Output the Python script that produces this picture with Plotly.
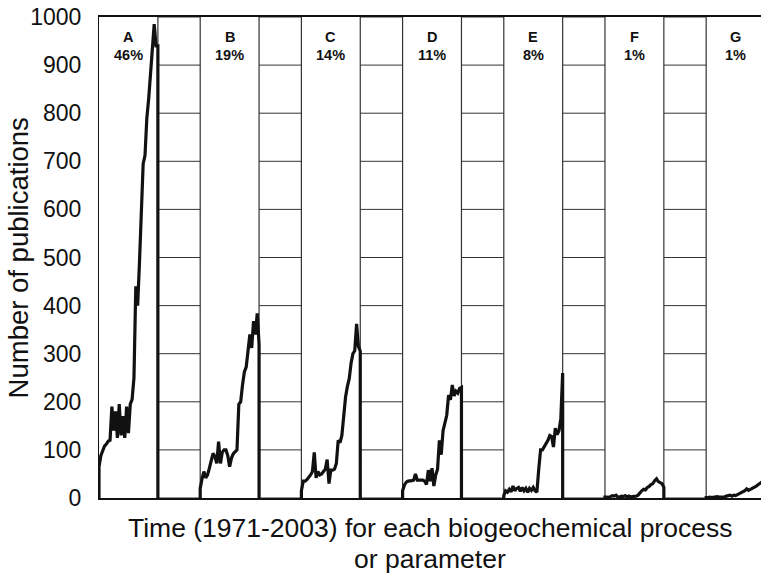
import plotly.graph_objects as go

# ---------------- data ----------------
years = list(range(1971, 2004))
panel_labels = ["A", "B", "C", "D", "E", "F", "G"]
panel_shares = ["46%", "19%", "14%", "11%", "8%", "1%", "1%"]

series_A = [65, 88, 100, 108, 112, 118, 120, 190, 140, 180, 125, 195, 130, 170, 125, 190,
            135, 195, 205, 250, 440, 400, 490, 600, 695, 712, 790, 830, 880, 920, 985, 940, 940]
series_B = [20, 40, 55, 42, 48, 62, 78, 93, 86, 72, 117, 72, 95, 100, 100, 88,
            65, 83, 92, 96, 100, 195, 200, 235, 262, 272, 305, 340, 312, 368, 340, 384, 320]
series_C = [15, 35, 35, 38, 42, 48, 55, 95, 42, 55, 48, 50, 55, 60, 80, 30,
            58, 58, 60, 72, 120, 115, 130, 170, 210, 232, 248, 280, 300, 306, 362, 315, 305]
series_D = [15, 27, 33, 35, 35, 36, 37, 50, 37, 37, 37, 37, 35, 28, 58, 35,
            62, 25, 48, 60, 120, 90, 140, 160, 172, 214, 204, 235, 212, 222, 218, 228, 230]
series_E = [5, 15, 12, 18, 13, 25, 15, 20, 22, 14, 22, 15, 20, 12, 20, 16,
            22, 15, 12, 60, 100, 100, 106, 112, 120, 130, 128, 106, 145, 132, 140, 165, 260]
series_F = [2, 2, 1, 3, 5, 4, 6, 2, 2, 4, 3, 5, 2, 4, 2, 3,
            3, 4, 6, 12, 15, 18, 17, 22, 24, 28, 30, 36, 40, 34, 31, 30, 22]
series_G = [1, 1, 2, 1, 2, 2, 3, 2, 2, 3, 2, 4, 5, 6, 4, 6,
            5, 7, 8, 10, 12, 15, 19, 16, 18, 20, 21, 24, 27, 30, 33, 35, 38]
all_series = [series_A, series_B, series_C, series_D, series_E, series_F, series_G]

y_ticks = [0, 100, 200, 300, 400, 500, 600, 700, 800, 900, 1000]

# ---------------- layout constants ----------------
SPAN = years[-1] - years[0]      # width of one panel, in years
PERIOD = 55                      # panel + gap, in years
X_MAX = 359.8
FONT = "Liberation Sans, Arial, Helvetica, sans-serif"
INK = "#111111"

fig = go.Figure()

for k, vals in enumerate(all_series):
    xs = [k * PERIOD + (yr - years[0]) for yr in years]
    # series rise from and fall back to the baseline at the panel edges
    xs_full = [xs[0]] + xs + [xs[-1]]
    ys_full = [0] + vals + [0]
    fig.add_trace(go.Scatter(
        x=xs_full, y=ys_full, mode="lines",
        line=dict(color=INK, width=3.2),
        showlegend=False, hoverinfo="skip"))

shapes = []
for k in range(len(all_series) - 1):
    g0 = k * PERIOD + SPAN
    g1 = (k + 1) * PERIOD
    shapes.append(dict(type="rect", xref="x", yref="y", x0=g0, x1=g1, y0=0, y1=1000,
                       line=dict(color="#333333", width=1.2), fillcolor="white", layer="below"))
    for t in y_ticks[1:-1]:
        shapes.append(dict(type="line", xref="x", yref="y", x0=g0, x1=g1, y0=t, y1=t,
                           line=dict(color="#333333", width=1), layer="below"))

annotations = []
for k, (lab, pct) in enumerate(zip(panel_labels, panel_shares)):
    cx = k * PERIOD + SPAN / 2
    annotations.append(dict(x=cx, y=958, xref="x", yref="y", text="<b>%s</b>" % lab,
                            showarrow=False, font=dict(family=FONT, size=14.5, color=INK)))
    annotations.append(dict(x=cx, y=921, xref="x", yref="y", text="<b>%s</b>" % pct,
                            showarrow=False, font=dict(family=FONT, size=14.5, color=INK)))

# axis titles
annotations.append(dict(x=-0.121, y=0.5, xref="paper", yref="paper",
                        text="Number of publications", textangle=-90, showarrow=False,
                        xanchor="center", yanchor="middle",
                        font=dict(family=FONT, size=27.5, color=INK)))
annotations.append(dict(x=0.5, y=-0.063, xref="paper", yref="paper",
                        text="Time (1971-2003) for each biogeochemical process",
                        showarrow=False, xanchor="center", yanchor="middle",
                        font=dict(family=FONT, size=26.5, color=INK)))
annotations.append(dict(x=0.5, y=-0.126, xref="paper", yref="paper",
                        text="or parameter",
                        showarrow=False, xanchor="center", yanchor="middle",
                        font=dict(family=FONT, size=26.5, color=INK)))

fig.update_layout(
    width=761, height=573,
    margin=dict(l=99, r=0, t=17, b=75),
    paper_bgcolor="white", plot_bgcolor="white",
    shapes=shapes, annotations=annotations,
    xaxis=dict(range=[0, X_MAX], showgrid=False, zeroline=False, showticklabels=False,
               ticks="", showline=True, mirror=True, linecolor=INK, linewidth=1.5),
    yaxis=dict(range=[0, 1000], tickvals=y_ticks, ticktext=[str(v) for v in y_ticks],
               showgrid=False, zeroline=False, ticks="", ticklabelstandoff=12,
               showline=True, linecolor=INK, linewidth=1.2,
               tickfont=dict(family=FONT, size=23, color=INK)),
)

fig.write_html("out.html", config={"displayModeBar": False},
               post_script="document.body.style.margin='0px';document.body.style.overflow='hidden';")
